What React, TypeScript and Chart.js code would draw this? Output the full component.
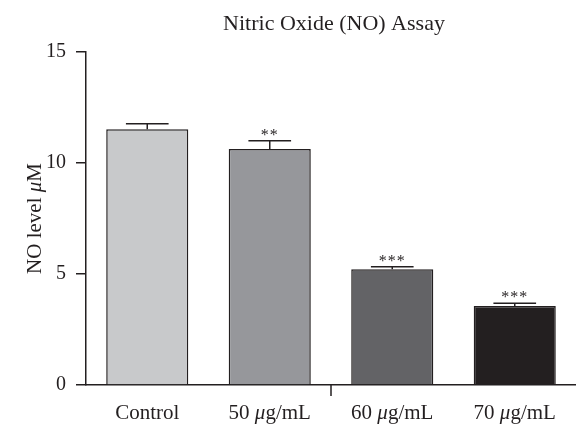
import React, { useEffect, useRef } from "react";
import { Chart, registerables } from "chart.js";

Chart.register(...registerables);

const categories = ["Control", "50 μg/mL", "60 μg/mL", "70 μg/mL"];
const means = [11.52, 10.63, 5.21, 3.56];
const errors = [0.25, 0.37, 0.12, 0.12];
const significance = ["", "**", "***", "***"];
const barColors = ["#c8c9cb", "#96979b", "#636366", "#231f20"];
const yTicks = [0, 5, 10, 15];
const titleText = "Nitric Oxide (NO) Assay";
const yTitleParts: [string, boolean][] = [["NO level ", false], ["μ", true], ["M", false]];

const INK = "#231f20";
const FONT = "'Liberation Serif', 'Times New Roman', serif";

function drawMixed(ctx: CanvasRenderingContext2D, parts: [string, boolean][], size: number, cx: number, cy: number) {
  const widths = parts.map(([t, it]) => {
    ctx.font = `${it ? "italic " : ""}${size}px ${FONT}`;
    return ctx.measureText(t).width;
  });
  const total = widths.reduce((a, b) => a + b, 0);
  let x = cx - total / 2;
  parts.forEach(([t, it], i) => {
    ctx.font = `${it ? "italic " : ""}${size}px ${FONT}`;
    ctx.fillText(t, x, cy);
    x += widths[i];
  });
}

function splitMu(label: string): [string, boolean][] {
  const idx = label.indexOf("μ");
  if (idx < 0) return [[label, false]];
  return [[label.slice(0, idx), false], ["μ", true], [label.slice(idx + 1), false]];
}

const decorPlugin = {
  id: "decor",
  afterDatasetsDraw(chart: any) {
    const { ctx, chartArea, scales } = chart;
    const y = scales.y;
    const x = scales.x;
    const meta = chart.getDatasetMeta(0);
    ctx.save();
    ctx.strokeStyle = INK;
    ctx.fillStyle = INK;
    ctx.lineWidth = 1.5;
    means.forEach((m, i) => {
      const bar = meta.data[i];
      const bx = bar.x;
      const yMean = y.getPixelForValue(m);
      const yTop = y.getPixelForValue(m + errors[i]);
      const half = bar.width * 0.26;
      ctx.beginPath();
      ctx.moveTo(bx, yMean);
      ctx.lineTo(bx, yTop);
      ctx.moveTo(bx - half, yTop);
      ctx.lineTo(bx + half, yTop);
      ctx.stroke();
      if (significance[i]) {
        ctx.font = `16px ${FONT}`;
        ctx.textAlign = "center";
        ctx.textBaseline = "alphabetic";
        (ctx as any).letterSpacing = "1px";
        ctx.fillText(significance[i], bx, yTop - 1);
        (ctx as any).letterSpacing = "0px";
      }
    });
    // middle tick on x axis
    const mid = (chartArea.left + chartArea.right) / 2;
    ctx.beginPath();
    ctx.moveTo(mid, chartArea.bottom);
    ctx.lineTo(mid, chartArea.bottom + 11);
    ctx.stroke();
    // x labels
    ctx.textAlign = "left";
    ctx.textBaseline = "middle";
    categories.forEach((c, i) => {
      drawMixed(ctx, splitMu(c), 21, x.getPixelForTick(i), chartArea.bottom + 28);
    });
    // title
    ctx.font = `22px ${FONT}`;
    ctx.textAlign = "center";
    ctx.textBaseline = "alphabetic";
    ctx.fillText(titleText, mid + 3, 30);
    // y title
    ctx.textBaseline = "middle";
    ctx.translate(35, (chartArea.top + chartArea.bottom) / 2);
    ctx.rotate(-Math.PI / 2);
    ctx.textAlign = "left";
    drawMixed(ctx, yTitleParts, 21, 0, 0);
    ctx.restore();
  },
};

export default function App() {
  const ref = useRef<HTMLCanvasElement>(null);
  useEffect(() => {
    if (!ref.current) return;
    const chart = new Chart(ref.current, {
      type: "bar",
      data: {
        labels: categories,
        datasets: [
          {
            data: means,
            backgroundColor: barColors,
            borderColor: INK,
            borderWidth: 1.5,
            barPercentage: 0.67,
            categoryPercentage: 1,
          },
        ],
      },
      options: {
        animation: false,
        responsive: true,
        maintainAspectRatio: false,
        layout: { padding: { top: 52, left: 0, right: 0, bottom: 0 } },
        plugins: {
          legend: { display: false },
          tooltip: { enabled: false },
          title: { display: false },
        },
        scales: {
          x: {
            grid: { display: false, drawTicks: false },
            border: { display: true, color: INK, width: 1.5 },
            ticks: { color: "rgba(0,0,0,0)", font: { family: FONT, size: 21 } },
            afterFit: (s: any) => {
              s.height = 43;
            },
          },
          y: {
            min: 0,
            max: 15,
            afterBuildTicks: (s: any) => {
              s.ticks = yTicks.map((v) => ({ value: v }));
            },
            grid: { drawOnChartArea: false, drawTicks: true, tickLength: 10, color: INK, lineWidth: 1.5 },
            border: { display: true, color: INK, width: 1.5 },
            ticks: { color: INK, padding: 10, font: { family: FONT, size: 20 } },
            afterFit: (s: any) => {
              s.width = 86;
            },
          },
        },
      },
      plugins: [decorPlugin],
    });
    return () => chart.destroy();
  }, []);
  return (
    <div style={{ position: "fixed", left: 0, top: 0, width: 576, height: 428, background: "#fff" }}>
      <canvas ref={ref} />
    </div>
  );
}
